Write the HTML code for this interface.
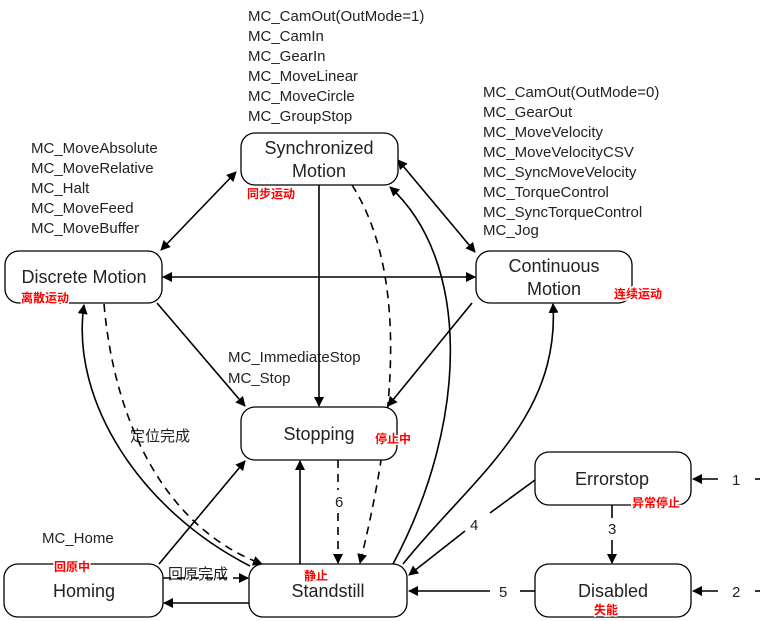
<!DOCTYPE html>
<html><head><meta charset="utf-8"><style>
body{margin:0;background:#fff}
svg{display:block}
text{font-family:"Liberation Sans","Noto Sans CJK SC",sans-serif;fill:#222}
.b{font-size:18px}
.l{font-size:15px}
.r text{font-size:12px;font-weight:bold;fill:#f00;stroke:#fff;stroke-width:3px;paint-order:stroke}
rect{fill:#fff;stroke:#000;stroke-width:1.3}
path,line{stroke:#000;stroke-width:1.6;fill:none}
.d{stroke-dasharray:8,6}
</style></head><body>
<svg width="765" height="621" viewBox="0 0 765 621">
<defs><marker id="a" markerWidth="10" markerHeight="10" refX="9" refY="5" orient="auto-start-reverse" markerUnits="userSpaceOnUse"><path d="M0,0 L10,5 L0,10 z" style="fill:#000;stroke:none"/></marker></defs>
<g class="l">
<text x="248" y="21">MC_CamOut(OutMode=1)</text><text x="248" y="41">MC_CamIn</text><text x="248" y="61">MC_GearIn</text><text x="248" y="81">MC_MoveLinear</text><text x="248" y="101">MC_MoveCircle</text><text x="248" y="121">MC_GroupStop</text>
<text x="483" y="97">MC_CamOut(OutMode=0)</text><text x="483" y="117">MC_GearOut</text><text x="483" y="137">MC_MoveVelocity</text><text x="483" y="157">MC_MoveVelocityCSV</text><text x="483" y="177">MC_SyncMoveVelocity</text><text x="483" y="197">MC_TorqueControl</text><text x="483" y="217">MC_SyncTorqueControl</text><text x="483" y="235">MC_Jog</text>
<text x="31" y="153">MC_MoveAbsolute</text><text x="31" y="173">MC_MoveRelative</text><text x="31" y="193">MC_Halt</text><text x="31" y="213">MC_MoveFeed</text><text x="31" y="233">MC_MoveBuffer</text>
<text x="228" y="362">MC_ImmediateStop</text><text x="228" y="383">MC_Stop</text>
<text x="130" y="441">定位完成</text><text x="42" y="543">MC_Home</text>
<text x="168" y="579">回原完成</text>
</g>
<line x1="236" y1="172" x2="161" y2="250" marker-start="url(#a)" marker-end="url(#a)"/>
<line x1="398" y1="160" x2="475" y2="252" marker-start="url(#a)" marker-end="url(#a)"/>
<line x1="163" y1="277" x2="475" y2="277" marker-start="url(#a)" marker-end="url(#a)"/>
<line x1="319" y1="185" x2="319" y2="406" marker-end="url(#a)"/>
<line x1="157" y1="303" x2="245" y2="406" marker-end="url(#a)"/>
<line x1="472" y1="303" x2="388" y2="406" marker-end="url(#a)"/>
<path class="d" d="M352,185 Q425,300 360,563" marker-end="url(#a)"/>
<path d="M393,564 C470,420 470,260 390,187" marker-end="url(#a)"/>
<path d="M250,566 C140,510 70,400 84,305" marker-end="url(#a)"/>
<path class="d" d="M104,304 C115,430 170,530 262,564" marker-end="url(#a)"/>
<line x1="159" y1="564" x2="245" y2="461" marker-end="url(#a)"/>
<line x1="300" y1="564" x2="300" y2="461" marker-end="url(#a)"/>
<line class="d" x1="338" y1="460" x2="338" y2="490"/>
<line class="d" x1="338" y1="513" x2="338" y2="563" marker-end="url(#a)"/>
<text class="l" x="335" y="507">6</text>
<path d="M403,564 C470,480 560,420 553,304" marker-end="url(#a)"/>
<line x1="535" y1="480" x2="490" y2="513"/>
<line x1="465" y1="531" x2="409" y2="575" marker-end="url(#a)"/>
<text class="l" x="470" y="530">4</text>
<line x1="612" y1="505" x2="612" y2="518"/>
<line x1="612" y1="540" x2="612" y2="563" marker-end="url(#a)"/>
<text class="l" x="608" y="534">3</text>
<line x1="535" y1="591" x2="520" y2="591"/>
<line x1="490" y1="591" x2="409" y2="591" marker-end="url(#a)"/>
<text class="l" x="499" y="597">5</text>
<line class="d" x1="163" y1="578" x2="248" y2="578" marker-end="url(#a)"/>
<line x1="249" y1="603" x2="164" y2="603" marker-end="url(#a)"/>
<line x1="718" y1="479" x2="693" y2="479" marker-end="url(#a)"/>
<line x1="760" y1="479" x2="755" y2="479"/>
<text class="l" x="732" y="485">1</text>
<line x1="718" y1="591" x2="693" y2="591" marker-end="url(#a)"/>
<line x1="760" y1="591" x2="755" y2="591"/>
<text class="l" x="732" y="597">2</text>
<rect x="241" y="133" width="157" height="52" rx="14"/>
<rect x="5" y="251" width="157" height="52" rx="14"/>
<rect x="476" y="251" width="156" height="52" rx="14"/>
<rect x="241" y="407" width="156" height="53" rx="14"/>
<rect x="535" y="452" width="156" height="53" rx="14"/>
<rect x="4" y="564" width="159" height="53" rx="14"/>
<rect x="249" y="564" width="158" height="53" rx="14"/>
<rect x="535" y="564" width="156" height="53" rx="14"/>
<g class="b" text-anchor="middle">
<text x="319" y="154">Synchronized</text><text x="319" y="177">Motion</text>
<text x="84" y="283">Discrete Motion</text>
<text x="554" y="272">Continuous</text><text x="554" y="295">Motion</text>
<text x="319" y="440">Stopping</text>
<text x="612" y="485">Errorstop</text>
<text x="84" y="597">Homing</text>
<text x="328" y="597">Standstill</text>
<text x="613" y="597">Disabled</text>
</g>
<g class="r">
<text x="247" y="198">同步运动</text><text x="21" y="302">离散运动</text><text x="614" y="298">连续运动</text>
<text x="375" y="443">停止中</text><text x="632" y="507">异常停止</text><text x="54" y="571">回原中</text>
<text x="304" y="580">静止</text><text x="594" y="614">失能</text>
</g>
</svg>
</body></html>
